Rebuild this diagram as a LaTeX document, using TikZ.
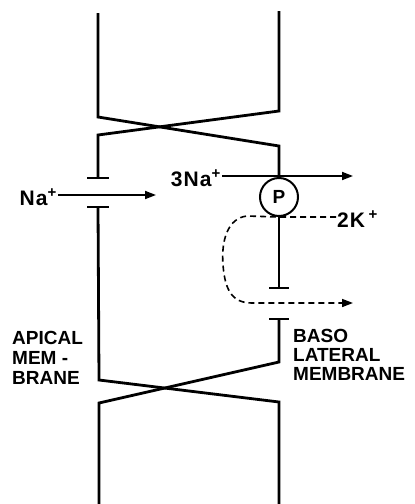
\documentclass[tikz,border=0pt]{standalone}
\usepackage{fontspec}
\setmainfont{Liberation Sans}
\usepackage{tikz}
\usetikzlibrary{arrows.meta, positioning}

\newcommand{\ionplus}{\textsuperscript{\fontsize{15}{15}\selectfont+}}

\begin{document}
\begin{tikzpicture}[
    x=1pt, y=-1pt,
    every node/.style={font=\fontsize{19}{20}\selectfont\bfseries},
    ion/.style={inner sep=1pt, font=\fontsize{21}{22}\selectfont\bfseries\addfontfeatures{LetterSpace=5}},
    membrane/.style={line width=2.8pt, line join=miter},
    chanend/.style={line width=2pt},
    flux/.style={-{Triangle[length=11pt, width=8pt]}, line width=1.8pt},
    kflux/.style={flux, line width=1.6pt, dash pattern=on 6pt off 4pt},
    caption/.style={align=left, inner sep=0pt}
]
\useasboundingbox (0,0) rectangle (415,504);

% Pump
\node[circle, draw, line width=2pt, minimum size=38pt, inner sep=0pt] (pump) at (279,197) {P};

% Apical membrane
\draw[membrane] (279,11) -- (279,111) -- (98,135) -- (98,178);
\draw[chanend] (87,178) -- (109,178);
\draw[chanend] (87,207) -- (109,207);
\draw[membrane] (98,207) -- (99,380) -- (279,402) -- (279,504);

% Basolateral membrane
\draw[membrane] (98,13) -- (98,117) -- (279,146) -- (pump.north);
\draw[membrane] (pump.south) -- (279,288);
\draw[chanend] (269,288) -- (289,288);
\draw[chanend] (269,319) -- (289,319);
\draw[membrane] (279,319) -- (279,362) -- (99,403) -- (99,504);

% Fluxes
\node[ion, anchor=east] (na) at (58,197) {Na\ionplus};
\coordinate (naend) at (156,195);
\draw[flux] (na.east |- naend) -- (naend);

\node[ion, anchor=east] (na3) at (222,178) {3Na\ionplus};
\coordinate (na3end) at (353,176);
\draw[flux] (na3.east |- na3end) -- (na3end);

\node[ion, anchor=west] (k2) at (336,219) {2K\,\ionplus};
\coordinate (k2end) at (353,303);
\draw[kflux] (k2.west |- pump.south) -- (pump.south) -- (247,216)
    .. controls (228,218) and (221,240) .. (223,265)
    .. controls (225,290) and (232,303) .. (252,303) -- (k2end);

% Labels
\node[caption, anchor=north west] (apical) at (12,331) {APICAL\\[0pt]MEM -\\[0pt]BRANE};
\node[caption, anchor=north west] (baso) at (293,329) {BASO\\[-1pt]LATERAL\\[-1pt]MEMBRANE};

\end{tikzpicture}
\end{document}
